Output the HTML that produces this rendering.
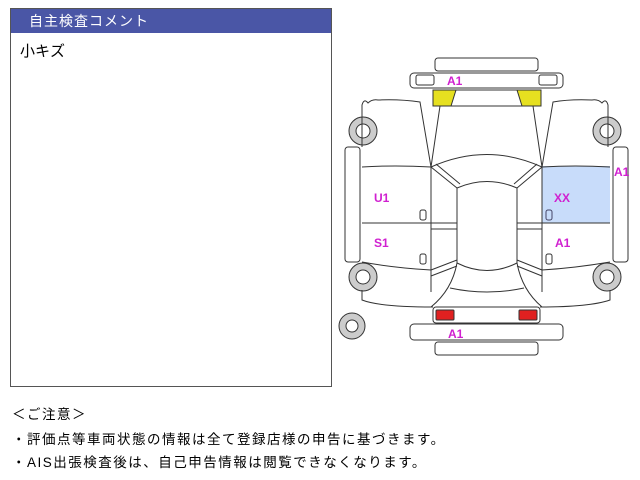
<!DOCTYPE html>
<html><head><meta charset="utf-8"><style>
body{margin:0;width:640px;height:480px;background:#fff;font-family:"Liberation Sans","Noto Sans CJK JP",sans-serif;position:relative;overflow:hidden}
.box{position:absolute;left:10px;top:8px;width:322px;height:379px;border:1px solid #555;box-sizing:border-box}
.hd{background:#4a56a6;color:#fff;height:24px;line-height:24px;font-size:14px;padding-left:18px;letter-spacing:1px}
.c{font-size:15px;padding:7px 0 0 9px;color:#000}
.n{position:absolute;left:12px;font-size:13.5px;color:#000;letter-spacing:1.5px;white-space:nowrap}
svg{position:absolute;left:0;top:0}
svg text{font-family:"Liberation Sans",sans-serif;font-weight:bold;font-size:12px;fill:#d020d0;stroke:none}
</style></head><body>
<div class="box"><div class="hd">自主検査コメント</div><div class="c">小キズ</div></div>
<div class="n" style="top:403px">＜ご注意＞</div>
<div class="n" style="top:428px">・評価点等車両状態の情報は全て登録店様の申告に基づきます。</div>
<div class="n" style="top:451px">・AIS出張検査後は、自己申告情報は閲覧できなくなります。</div>
<svg width="640" height="480" fill="none" stroke="#333" stroke-width="1">
<rect x="542" y="166" width="68" height="57" fill="#c8dcfa" stroke="none"/>
<rect x="435" y="58" width="103" height="13" rx="3" fill="#fff"/>
<rect x="410" y="73" width="153" height="15" rx="4" fill="#fff"/>
<rect x="416" y="75" width="18" height="10" rx="2"/>
<rect x="539" y="75" width="18" height="10" rx="2"/>
<rect x="433" y="90" width="108" height="16" rx="2" fill="#fff"/>
<path d="M433 90 H456 L451 106 H433 Z" fill="#e6e020"/>
<path d="M517 90 H541 V106 H522 Z" fill="#e6e020"/>
<rect x="433" y="307" width="107" height="16" rx="3" fill="#fff"/>
<rect x="436" y="310" width="18" height="10" rx="1" fill="#e02020"/>
<rect x="519" y="310" width="18" height="10" rx="1" fill="#e02020"/>
<rect x="410" y="324" width="153" height="16" rx="4" fill="#fff"/>
<rect x="435" y="342" width="103" height="13" rx="3" fill="#fff"/>
<rect x="345" y="147" width="15" height="115" rx="3"/>
<rect x="613" y="147" width="15" height="115" rx="3"/>
<g fill="#ccc"><circle cx="363" cy="131" r="14"/><circle cx="607" cy="131" r="14"/><circle cx="363" cy="277" r="14"/><circle cx="607" cy="277" r="14"/><circle cx="352" cy="326" r="13"/></g>
<g fill="#fff"><circle cx="363" cy="131" r="7"/><circle cx="607" cy="131" r="7"/><circle cx="363" cy="277" r="7"/><circle cx="607" cy="277" r="7"/><circle cx="352" cy="326" r="6"/></g>
<path d="M362 147 V105 Q364 98 368 103 Q372 99 378 100 Q400 99 420 102 L431 167"/>
<path d="M362 167 Q395 165 431 167 M362 223 H431 M362 262 Q395 268 431 270"/>
<path d="M362 290 V300 Q380 307 433 307"/>
<path d="M608 147 V105 Q606 98 602 103 Q598 99 592 100 Q570 99 553 102 L542 167"/>
<path d="M542 167 Q575 165 610 167 M542 223 H610 M542 270 Q575 268 610 262"/>
<path d="M610 290 V300 Q590 307 540 307"/>
<rect x="420" y="210" width="6" height="10" rx="2"/>
<rect x="420" y="254" width="6" height="10" rx="2"/>
<rect x="546" y="210" width="6" height="10" rx="2" stroke="#446"/>
<rect x="546" y="254" width="6" height="10" rx="2"/>
<path d="M440 106 L431 167 M533 106 L542 167"/>
<path d="M431 167 Q487 142 542 167"/>
<path d="M431 167 V292 M542 167 V292"/>
<path d="M431 167 L457 188 M436 164 L460 184 M542 167 L517 188 M537 164 L514 184"/>
<path d="M457 188 Q487 175 517 188"/>
<path d="M457 188 V263 M517 188 V263"/>
<path d="M457 263 Q487 278 517 263"/>
<path d="M431 223 H457 M431 229 H457 M517 223 H542 M517 229 H542"/>
<path d="M431 270 L457 260 M431 276 L457 266 M542 270 L517 260 M542 276 L517 266"/>
<path d="M450 288 Q487 296 524 288"/>
<path d="M457 263 Q452 290 431 307 M517 263 Q522 290 542 307"/>
<text x="447" y="85">A1</text>
<text x="374" y="202">U1</text>
<text x="374" y="247">S1</text>
<text x="554" y="202">XX</text>
<text x="555" y="247">A1</text>
<text x="614" y="176">A1</text>
<text x="448" y="338">A1</text>
</svg>
</body></html>
